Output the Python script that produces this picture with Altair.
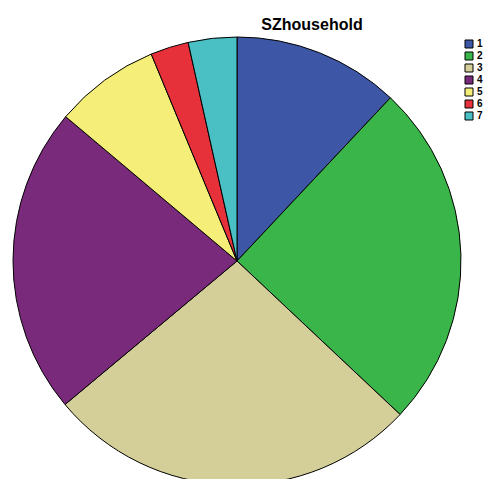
import altair as alt
import pandas as pd

categories = ["1", "2", "3", "4", "5", "6", "7"]
values = [12.0, 25.0, 26.9, 22.2, 7.6, 2.75, 3.5]
colors = ["#3D56A6", "#3AB54A", "#D4CF98", "#7A2A7A", "#F5EF7A", "#E6313A", "#4ABFC4"]

df = pd.DataFrame({"cat": categories, "val": values, "ord": list(range(len(categories)))})

pie = alt.Chart(df).mark_arc(stroke="black", strokeWidth=1, radius=224).encode(
    theta=alt.Theta("val:Q", stack=True),
    order=alt.Order("ord:Q"),
    color=alt.Color(
        "cat:N",
        scale=alt.Scale(domain=categories, range=colors),
        legend=alt.Legend(
            title=None, orient="none", legendX=456, legendY=31, padding=0,
            symbolType="square", symbolSize=64, symbolStrokeColor="black",
            symbolStrokeWidth=1, labelFontWeight="bold", labelFontSize=10,
            labelFont="Arial", rowPadding=0, labelOffset=3, symbolOpacity=1,
        ),
    ),
    x=alt.value(229),
    y=alt.value(253),
)

title = alt.Chart(pd.DataFrame({"t": ["SZhousehold"]})).mark_text(
    fontWeight="bold", fontSize=16, font="Arial", align="center", baseline="middle"
).encode(text="t:N", x=alt.value(304), y=alt.value(17))

chart = alt.layer(pie, title).properties(
    width=475, height=471, padding=0, autosize=alt.AutoSizeParams(type="none")
).configure_view(stroke=None)

chart.save("out.html", embed_options={"renderer": "svg", "actions": False})
